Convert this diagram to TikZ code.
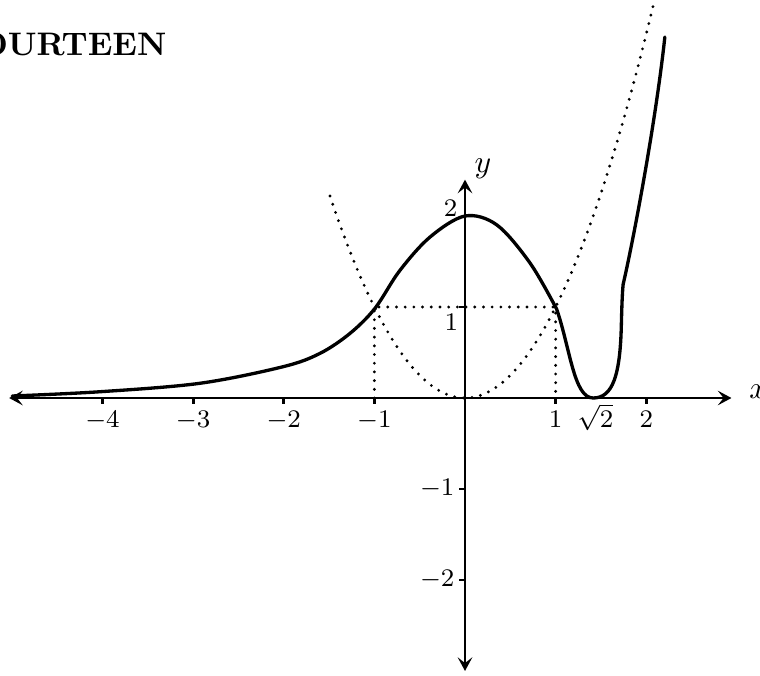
\documentclass[tikz,border=0pt]{standalone}
\usetikzlibrary{arrows.meta}
\begin{document}
\begin{tikzpicture}[x=1.007cm,y=1.011cm,
  axis/.style={line width=0.9pt,{Stealth[length=4.3pt,width=4.6pt,inset=1.8pt]}-{Stealth[length=4.3pt,width=4.6pt,inset=1.8pt]}},
  graph/.style={line width=1.05pt,line join=round,line cap=round},
  dots/.style={line width=1pt,line cap=round,dash pattern=on 0pt off 2.75pt},
  tickmark/.style={line width=0.9pt},
  ticklab/.style={font=\fontsize{8}{9}\selectfont,inner sep=0pt},
  axislab/.style={font=\fontsize{10.3}{12}\selectfont,inner sep=0pt}]
\useasboundingbox (-5.1667cm,-3.0778cm) rectangle (3.2778cm,4.4222cm);
% heading
\node[anchor=base east,inner sep=0pt,font=\bfseries\fontsize{10.3}{12}\selectfont] (head) at (-3.311cm,3.811cm) {FOURTEEN};
% dotted guides
\coordinate (O) at (0,0);
\coordinate (m1) at (-1,0);
\coordinate (p1) at (1,0);
\coordinate (A) at (-1,1);
\coordinate (B) at (1,1);
\draw[dots] (m1) -- (A) -- (B) -- (p1);
\draw[dots,domain=-1.49:2.08,samples=90] plot (\x,{\x*\x});
% axes
\coordinate (xl) at (-5.03,0);
\coordinate (xr) at (2.94,0);
\coordinate (yb) at (0,-3.0);
\coordinate (yt) at (0,2.4);
\draw[axis] (xl) -- (xr);
\draw[axis] (yb) -- (yt);
\node[axislab,anchor=base west] (xlab) at (3.13,0) {$x$};
\node[axislab,anchor=base west] (ylab) at (0.1,2.48) {$y$};
% x ticks
\foreach \t/\l in {-4/{-4},-3/{-3},-2/{-2},-1/{-1},1/{1},2/{2}}{
  \draw[tickmark] (\t,0) -- (\t,-0.07);
  \node[ticklab,anchor=base] at (\t,-0.32) {$\l$};
}
\node[ticklab,anchor=base] (sq) at (1.44,-0.32) {$\sqrt{2}$};
% y ticks
\foreach \t in {1,-1,-2}{
  \draw[tickmark] (0,\t) -- (-0.07,\t);
}
\node[ticklab] (y1) at (-0.15,0.83) {$1$};
\node[ticklab] (y2) at (-0.16,2.08) {$2$};
\node[ticklab,anchor=east] (ym1) at (-0.11,-1) {$-1$};
\node[ticklab,anchor=east] (ym2) at (-0.11,-2) {$-2$};
% the curve
\draw[graph] plot[smooth,tension=0.55] coordinates {(-4.996,0.022) (-4.026,0.069) (-2.923,0.162) (-2.007,0.344) (-1.599,0.491) (-1.268,0.711) (-0.993,0.986) (-0.72,1.40) (-0.386,1.769) (0,2) (0.353,1.901) (0.72,1.48) (1.01,0.98)}
  .. controls (1.16,0.55) and (1.20,0) .. (1.414,0)
  .. controls (1.63,0) and (1.712,0.25) .. (1.725,0.8)
  .. controls (1.73,1.0) and (1.735,1.15) .. (1.745,1.25)
  .. controls (1.85,1.7) and (2.1,3.0) .. (2.205,3.967);
\end{tikzpicture}
\end{document}
